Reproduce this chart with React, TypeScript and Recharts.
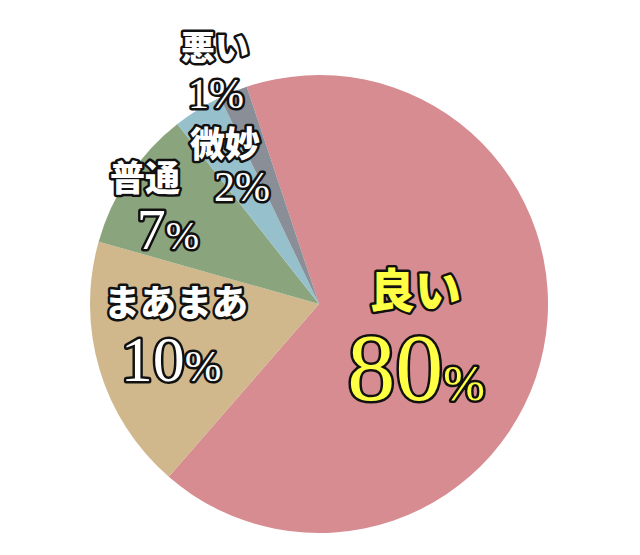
import { PieChart, Pie, Cell } from 'recharts';

const categories = ['良い', 'まあまあ', '普通', '微妙', '悪い'];
// slice sizes as drawn in the picture (the printed percents don't match the angles)
const sliceValues = [66.5, 18, 10, 3.5, 2];
const labelPercents = [80, 10, 7, 2, 1];

const COLORS = ['#D68C90', '#D0B78C', '#8AA57E', '#96C0CC', '#8A8E96'];

// label placement relative to the pie centre
const LABELS = [
  { nx: 96, ny: -17, nSize: 46, px: 97, pBase: 96, dSize: 96, pSize: 50, fill: '#FFFF44' },
  { nx: -143, ny: -4, nSize: 36, px: -148, pBase: 77, dSize: 64, pSize: 44, fill: '#fff' },
  { nx: -174, ny: -129, nSize: 35, px: -151, pBase: -55, dSize: 58, pSize: 40, fill: '#fff' },
  { nx: -94, ny: -163, nSize: 35, px: -77, pBase: -103, dSize: 42, pSize: 42, fill: '#fff' },
  { nx: -104, ny: -259, nSize: 34, px: -103, pBase: -196, dSize: 42, pSize: 42, fill: '#fff' },
];

const data = categories.map((name, i) => ({ name, value: sliceValues[i], pct: labelPercents[i] }));

const outline = {
  stroke: '#111',
  strokeWidth: 5,
  paintOrder: 'stroke' as const,
  strokeLinejoin: 'round' as const,
};

const renderLabel = (props: any) => {
  const { cx, cy, index } = props;
  const l = LABELS[index];
  const d = data[index];
  return (
    <g key={`lbl-${index}`}>
      <text
        x={cx + l.nx}
        y={cy + l.ny}
        textAnchor="middle"
        dominantBaseline="central"
        fontFamily="'Noto Sans CJK JP', sans-serif"
        fontWeight={900}
        fontSize={l.nSize}
        fill={l.fill}
        {...outline}
      >
        {d.name}
      </text>
      <text
        x={cx + l.px}
        y={cy + l.pBase}
        textAnchor="middle"
        fontFamily="'Liberation Serif', serif"
        fill={l.fill}
        {...outline}
      >
        <tspan fontSize={l.dSize}>{d.pct}</tspan>
        <tspan fontSize={l.pSize}>%</tspan>
      </text>
    </g>
  );
};

const App = () => {
  return (
    <div style={{ position: 'absolute', left: 0, top: 0, width: 640, height: 555, background: '#fff' }}>
      <PieChart width={640} height={555} margin={{ top: 0, right: 0, bottom: 0, left: 0 }}>
        <Pie
          data={data}
          dataKey="value"
          nameKey="name"
          cx={319}
          cy={304}
          outerRadius={229}
          startAngle={108.4}
          endAngle={-251.6}
          stroke="none"
          label={renderLabel}
          labelLine={false}
          isAnimationActive={false}
        >
          {data.map((d, i) => (
            <Cell key={d.name} fill={COLORS[i]} />
          ))}
        </Pie>
      </PieChart>
    </div>
  );
};

export default App;
